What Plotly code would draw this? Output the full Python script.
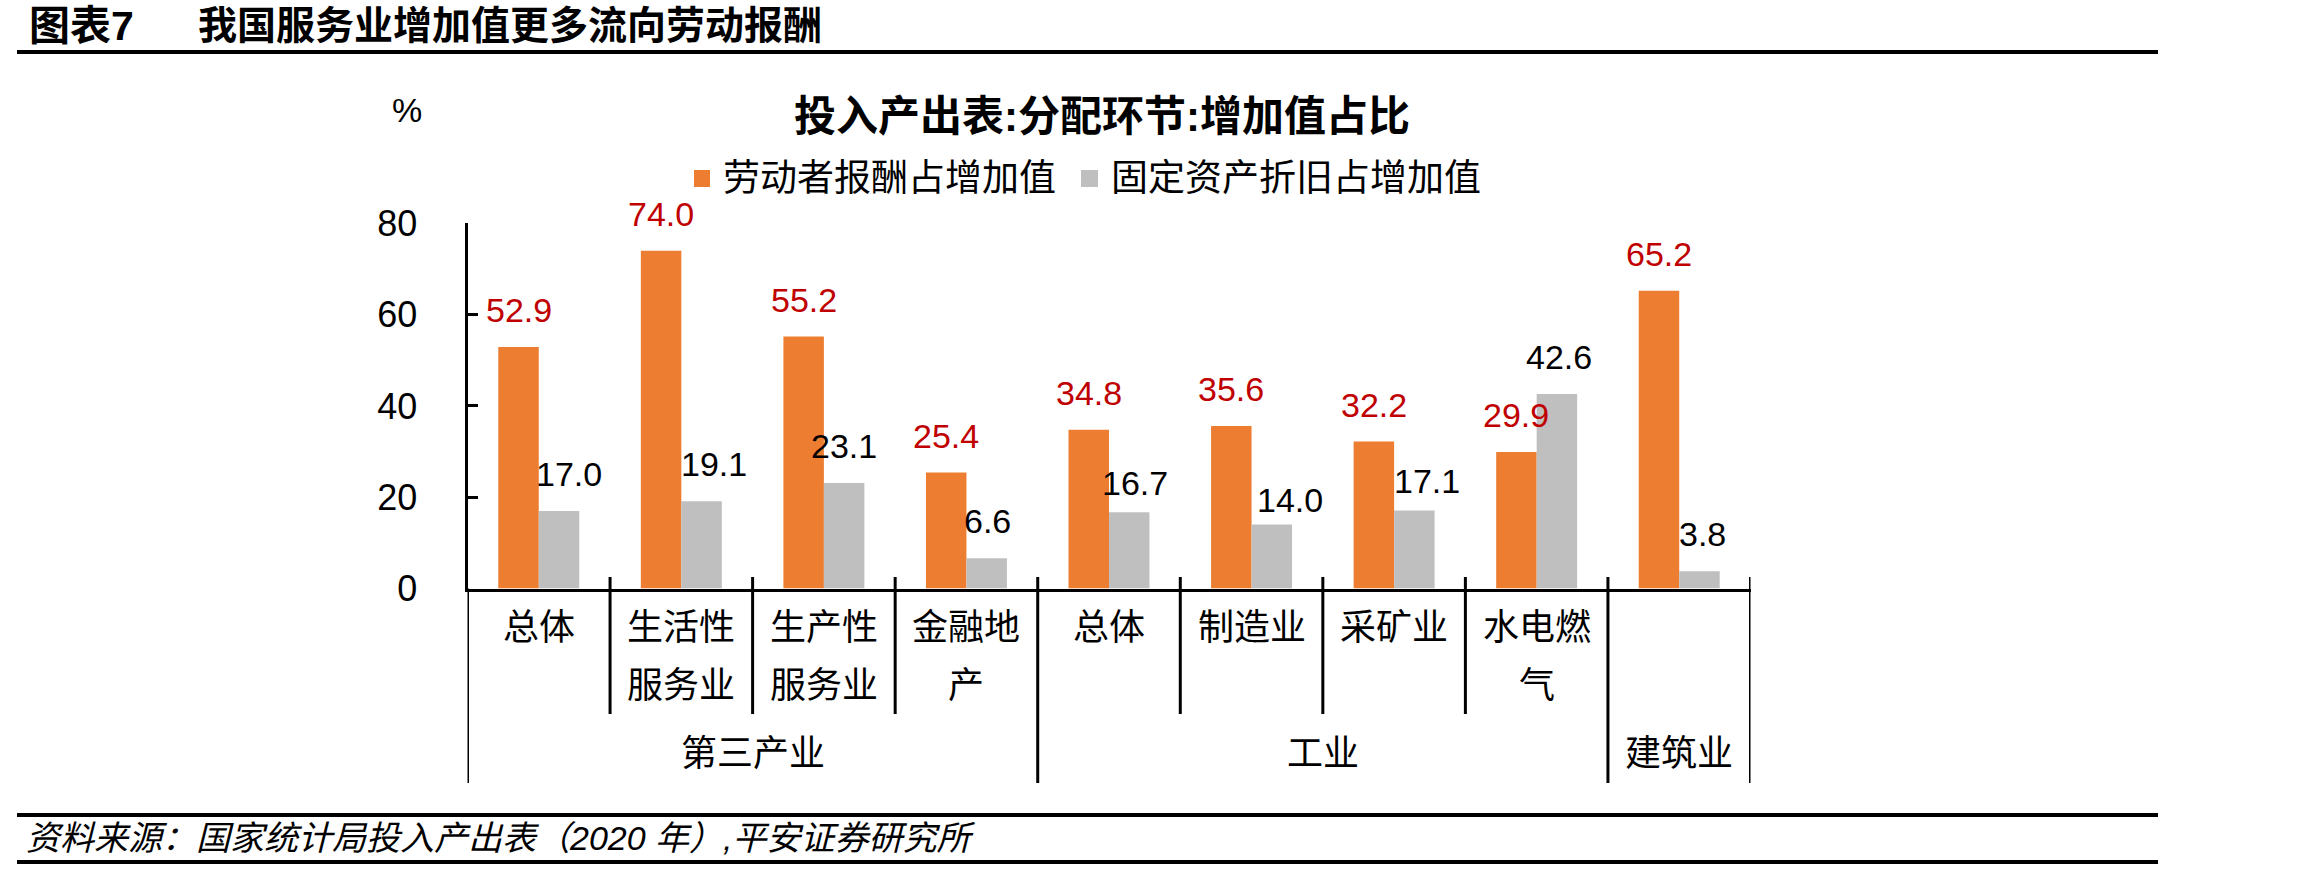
import plotly.graph_objects as go

# ---------------- data ----------------
categories = ["总体", "生活性\n服务业", "生产性\n服务业", "金融地\n产", "总体",
              "制造业", "采矿业", "水电燃\n气", ""]
groups = ["第三产业", "工业", "建筑业"]
group_sizes = [4, 4, 1]
labor_share = [52.9, 74.0, 55.2, 25.4, 34.8, 35.6, 32.2, 29.9, 65.2]
depr_share = [17.0, 19.1, 23.1, 6.6, 16.7, 14.0, 17.1, 42.6, 3.8]
series_names = ["劳动者报酬占增加值", "固定资产折旧占增加值"]
y_ticks = [0, 20, 40, 60, 80]

# ---------------- layout helpers ----------------
W, H = 2306, 871
def px(x): return x / W
def py(y): return 1 - y / H

ORANGE = "#ED7D31"
GRAY = "#BFBFBF"
RED = "#C00000"
LAT = "Liberation Sans, Arial, Noto Sans CJK SC, sans-serif"
CJK = "Liberation Sans, Noto Sans CJK SC, sans-serif"

X0, X1 = 467.5, 1750.5      # plot area left/right (px)
YB, YT = 588.5, 223.3       # y=0 and y=80 (px)
n = len(categories)
xs = list(range(n))
BW = 0.284                   # one bar width in category units

fig = go.Figure()
fig.add_trace(go.Bar(x=xs, y=labor_share, name=series_names[0],
                     marker=dict(color=ORANGE, line=dict(width=0)), showlegend=False))
fig.add_trace(go.Bar(x=xs, y=depr_share, name=series_names[1],
                     marker=dict(color=GRAY, line=dict(width=0)), showlegend=False))

fig.update_layout(
    template="none",
    width=W, height=H,
    margin=dict(l=0, r=0, t=0, b=0, pad=0, autoexpand=False),
    showlegend=False,
    paper_bgcolor="white", plot_bgcolor="white",
    barmode="group", bargap=1 - 2 * BW, bargroupgap=0,
    xaxis=dict(domain=[px(X0), px(X1)], range=[-0.5, n - 0.5], automargin=False,
               showticklabels=False, ticks="", showgrid=False, zeroline=False,
               showline=True, linecolor="black", linewidth=3, fixedrange=True),
    yaxis=dict(domain=[py(YB), py(YT)], range=[0, 80], tickvals=y_ticks,
               automargin=False,
               ticks="inside", ticklen=10, tickwidth=3, tickcolor="black",
               tickfont=dict(family=LAT, size=36, color="black"),
               ticklabelstandoff=40,
               showgrid=False, zeroline=False,
               showline=True, linecolor="black", linewidth=3, fixedrange=True),
)

ann = []
shapes = []

# data labels
gray_nudge = {0: (10, 0), 1: (12, 0), 2: (0, 0), 3: (1, 0), 4: (6, -8),
              5: (18, -12), 6: (13, -8), 7: (2, 0), 8: (3, 0)}
for i in range(n):
    ann.append(dict(x=i - BW / 2, y=labor_share[i], xref="x", yref="y",
                    text=f"{labor_share[i]:.1f}", showarrow=False,
                    xanchor="center", yanchor="middle", yshift=37,
                    font=dict(family=LAT, size=34, color=RED)))
    dx, dy = gray_nudge[i]
    ann.append(dict(x=i + BW / 2, y=depr_share[i], xref="x", yref="y",
                    text=f"{depr_share[i]:.1f}", showarrow=False,
                    xanchor="center", yanchor="middle", yshift=37 + dy, xshift=dx,
                    font=dict(family=LAT, size=34, color="black")))

# category labels
for i, c in enumerate(categories):
    for k, line in enumerate(c.split("\n")):
        if not line:
            continue
        ann.append(dict(x=i, y=py(627 + 58 * k), xref="x", yref="paper",
                        text=line, showarrow=False, xanchor="center", yanchor="middle",
                        font=dict(family=CJK, size=36, color="black")))

# group labels
start = 0
group_bounds = [-0.5]
for g, s in zip(groups, group_sizes):
    ann.append(dict(x=start + (s - 1) / 2, y=py(753), xref="x", yref="paper",
                    text=g, showarrow=False, xanchor="center", yanchor="middle",
                    font=dict(family=CJK, size=36, color="black")))
    start += s
    group_bounds.append(start - 0.5)

# dividers
for b in range(1, n + 1):
    xb = b - 0.5
    long_ = xb in group_bounds
    shapes.append(dict(type="line", xref="x", yref="paper", x0=xb, x1=xb,
                       y0=py(577), y1=py(783 if long_ else 714),
                       line=dict(color="black", width=3)))
shapes.append(dict(type="line", xref="x", yref="paper", x0=-0.5, x1=-0.5,
                   y0=py(YB), y1=py(783), line=dict(color="black", width=3)))

# chart title / unit
ann.append(dict(x=px(1102), y=py(117), xref="paper", yref="paper",
                text="<b>投入产出表:分配环节:增加值占比</b>", showarrow=False,
                xanchor="center", yanchor="middle",
                font=dict(family=CJK, size=42, color="black")))
ann.append(dict(x=px(407), y=py(110), xref="paper", yref="paper", text="%",
                showarrow=False, xanchor="center", yanchor="middle",
                font=dict(family=LAT, size=34, color="black")))

# legend (manual)
for (sx0, sx1, tx, col, name) in [(694, 710, 721, ORANGE, series_names[0]),
                                  (1081, 1098, 1109, GRAY, series_names[1])]:
    shapes.append(dict(type="rect", xref="paper", yref="paper",
                       x0=px(sx0), x1=px(sx1), y0=py(187), y1=py(170),
                       fillcolor=col, line=dict(width=0)))
    ann.append(dict(x=px(tx), y=py(178), xref="paper", yref="paper", text=name,
                    showarrow=False, xanchor="left", yanchor="middle",
                    font=dict(family=CJK, size=37, color="black")))

# page header
ann.append(dict(x=px(27), y=py(26), xref="paper", yref="paper", text="<b>图表7</b>",
                showarrow=False, xanchor="left", yanchor="middle",
                font=dict(family=CJK, size=41, color="black")))
ann.append(dict(x=px(196), y=py(26), xref="paper", yref="paper",
                text="<b>我国服务业增加值更多流向劳动报酬</b>",
                showarrow=False, xanchor="left", yanchor="middle",
                font=dict(family=CJK, size=39, color="black")))
shapes.append(dict(type="line", xref="paper", yref="paper", x0=px(17), x1=px(2158),
                   y0=py(52), y1=py(52), line=dict(color="black", width=4)))

# footer
shapes.append(dict(type="line", xref="paper", yref="paper", x0=px(17), x1=px(2158),
                   y0=py(815), y1=py(815), line=dict(color="black", width=4)))
shapes.append(dict(type="line", xref="paper", yref="paper", x0=px(17), x1=px(2158),
                   y0=py(862), y1=py(862), line=dict(color="black", width=4)))
ann.append(dict(x=px(24), y=py(838), xref="paper", yref="paper",
                text="<i>资料来源：国家统计局投入产出表（2020 年）,平安证券研究所</i>",
                showarrow=False, xanchor="left", yanchor="middle",
                font=dict(family=CJK, size=34, color="black")))

fig.update_layout(annotations=ann, shapes=shapes)
fig.write_html("out.html")
